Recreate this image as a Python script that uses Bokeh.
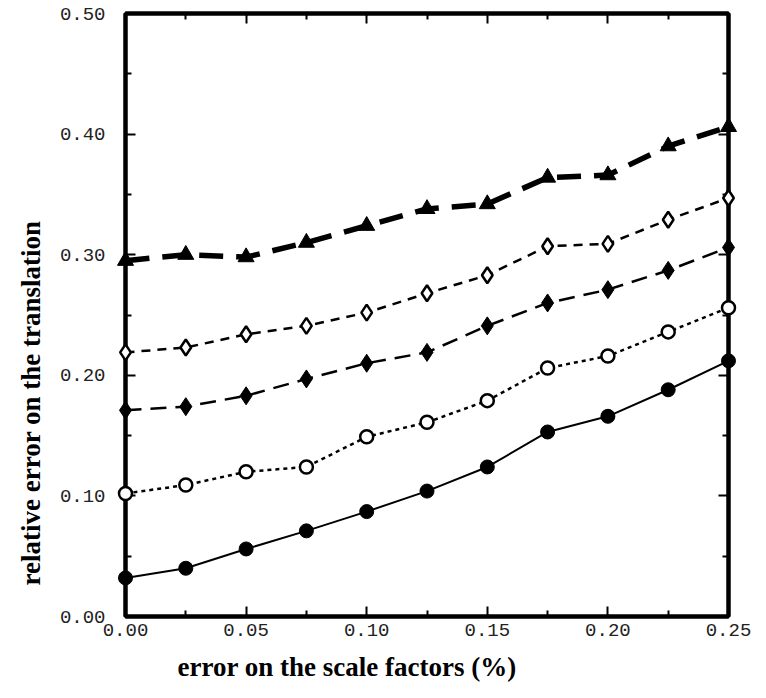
from bokeh.plotting import figure
from bokeh.models import LinearAxis, FixedTicker, NumeralTickFormatter, Range1d, Title
from bokeh.embed import file_html
from bokeh.resources import INLINE

# ---- data ----
scale_err = [0.0, 0.025, 0.05, 0.075, 0.10, 0.125, 0.15, 0.175, 0.20, 0.225, 0.25]
s_circle_filled = [0.032, 0.040, 0.056, 0.071, 0.087, 0.104, 0.124, 0.153, 0.166, 0.188, 0.212]
s_circle_open = [0.102, 0.109, 0.120, 0.124, 0.149, 0.161, 0.179, 0.206, 0.216, 0.236, 0.256]
s_diamond_filled = [0.171, 0.174, 0.183, 0.197, 0.210, 0.219, 0.241, 0.260, 0.271, 0.287, 0.306]
s_diamond_open = [0.219, 0.223, 0.234, 0.241, 0.252, 0.268, 0.283, 0.307, 0.309, 0.329, 0.347]
s_triangle = [0.295, 0.300, 0.298, 0.310, 0.324, 0.338, 0.342, 0.364, 0.366, 0.390, 0.406]

x_major = [0.0, 0.05, 0.10, 0.15, 0.20, 0.25]
x_minor = [0.025, 0.075, 0.125, 0.175, 0.225]
y_major = [0.0, 0.1, 0.2, 0.3, 0.4, 0.5]
y_minor = [0.05, 0.15, 0.25, 0.35, 0.45]

x_title = "error on the scale factors (%)"
y_title = "relative  error on the translation"

p = figure(width=766, height=698, x_range=Range1d(0, 0.25), y_range=Range1d(0, 0.5),
           output_backend="svg", toolbar_location=None,
           x_axis_location=None, y_axis_location=None,
           min_border_left=125, min_border_right=38, min_border_top=13, min_border_bottom=82)
p.grid.visible = False
p.outline_line_color = "black"
p.outline_line_width = 4
p.background_fill_color = "white"
p.border_fill_color = "white"

TICK_FONT = "Liberation Mono"
TITLE_FONT = "Liberation Serif"

def style_axis(ax, show_labels):
    ax.axis_line_width = 4
    ax.axis_line_color = "black"
    ax.major_tick_in = 10
    ax.major_tick_out = 0
    ax.minor_tick_in = 6
    ax.minor_tick_out = 0
    ax.major_tick_line_width = 2
    ax.minor_tick_line_width = 2
    ax.formatter = NumeralTickFormatter(format="0.00")
    if show_labels:
        ax.major_label_text_font = TICK_FONT
        ax.major_label_text_font_size = "19px"
        ax.major_label_text_color = "#222222"
    else:
        ax.major_label_text_font_size = "1px"
        ax.major_label_text_color = None
        ax.major_label_standoff = 0

xb = LinearAxis(ticker=FixedTicker(ticks=x_major, minor_ticks=x_minor))
style_axis(xb, True)
xb.major_label_standoff = 7
p.add_layout(xb, "below")
xt = LinearAxis(ticker=FixedTicker(ticks=x_major, minor_ticks=x_minor))
style_axis(xt, False)
p.add_layout(xt, "above")

yl = LinearAxis(ticker=FixedTicker(ticks=y_major, minor_ticks=y_minor))
style_axis(yl, True)
yl.major_label_standoff = 20
p.add_layout(yl, "left")
yr = LinearAxis(ticker=FixedTicker(ticks=y_major, minor_ticks=y_minor))
style_axis(yr, False)
p.add_layout(yr, "right")

# series
p.line(scale_err, s_circle_filled, line_color="black", line_width=2)
p.scatter(scale_err, s_circle_filled, marker="circle", size=14, fill_color="black", line_color="black", level="overlay")

p.line(scale_err, s_circle_open, line_color="black", line_width=2.5, line_dash="4 4")
p.scatter(scale_err, s_circle_open, marker="circle", size=13, fill_color="white", line_color="black", line_width=2.5, level="overlay")

p.line(scale_err, s_diamond_filled, line_color="black", line_width=2.5, line_dash="16 9")
p.scatter(scale_err, s_diamond_filled, marker="diamond", size=18, fill_color="black", line_color="black", level="overlay")

p.line(scale_err, s_diamond_open, line_color="black", line_width=2.5, line_dash="9 7")
p.scatter(scale_err, s_diamond_open, marker="diamond", size=16, fill_color="white", line_color="black", line_width=2.5, level="overlay")

p.line(scale_err, s_triangle, line_color="black", line_width=5.5, line_dash="24 13")
p.scatter(scale_err, s_triangle, marker="triangle", size=16, fill_color="black", line_color="black", level="overlay")

# axis titles
p.add_layout(Title(text=x_title, align="left", offset=52, standoff=22,
                   text_font=TITLE_FONT, text_font_style="bold", text_font_size="27px",
                   text_color="black"), "below")
p.add_layout(Title(text=y_title, align="left", offset=31, standoff=22,
                   text_font=TITLE_FONT, text_font_style="bold", text_font_size="27px",
                   text_color="black"), "left")

open("out.html", "w").write(file_html(p, INLINE))
